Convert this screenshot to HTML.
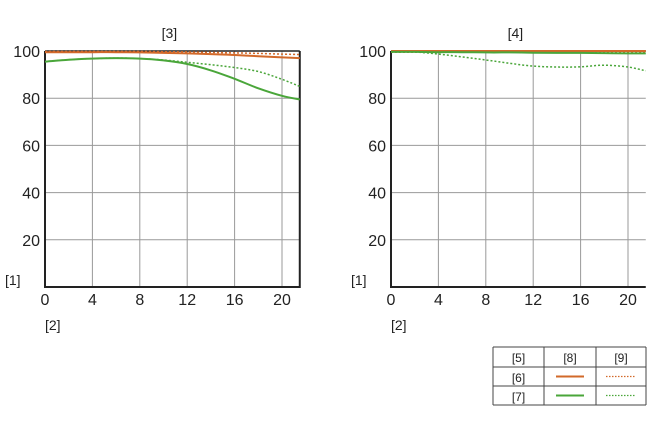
<!DOCTYPE html>
<html><head><meta charset="utf-8"><style>
body{margin:0;background:#fff;width:650px;height:434px;overflow:hidden}
svg{display:block}
text{font-family:"Liberation Sans",sans-serif;fill:#222}
</style></head><body>
<svg id="s" width="650" height="434"></svg>
<script>
const xTicks=[0,4,8,12,16,20];
const yTicks=[20,40,60,80,100];
const xs=[0,2,4,6,8,10,12,14,16,18,20,21.5];
const leftOrangeSolid=[99.5,99.5,99.5,99.5,99.4,99.2,99,98.7,98.3,97.8,97.3,97];
const leftOrangeDot=[99.8,99.8,99.8,99.8,99.8,99.7,99.6,99.4,99.2,99,98.7,98.5];
const leftGreenSolid=[95.5,96.3,96.8,97,96.8,96,94.5,91.8,88.2,84.2,81,79.5];
const leftGreenDot=[95.5,96.3,96.8,97,96.8,96.2,95.2,94.2,93,91.3,88,85];
const rightOrangeSolid=[100,100,100,100,100,100,100,100,100,100,100,100];
const rightOrangeDot=[99.5,99.5,99.5,99.5,99.5,99.5,99.5,99.5,99.5,99.5,99.5,99.4];
const rightGreenSolid=[99.6,99.6,99.5,99.5,99.4,99.4,99.3,99.2,99.2,99.1,99,99];
const rightGreenDot=[100,99.6,98.7,97.5,96.2,94.8,93.6,93.2,93.3,94,93.2,91.6];
const NS='http://www.w3.org/2000/svg';
const svg=document.getElementById('s');
function el(t,a,p){const e=document.createElementNS(NS,t);for(const k in a)e.setAttribute(k,a[k]);(p||svg).appendChild(e);return e;}
const orange='#d2692a',green='#4aa63a';
function smooth(pts){
  let d='M'+pts[0][0].toFixed(1)+','+pts[0][1].toFixed(1);
  for(let i=0;i<pts.length-1;i++){
    const p0=pts[i-1]||pts[i],p1=pts[i],p2=pts[i+1],p3=pts[i+2]||p2;
    const c1=[p1[0]+(p2[0]-p0[0])/6,p1[1]+(p2[1]-p0[1])/6];
    const c2=[p2[0]-(p3[0]-p1[0])/6,p2[1]-(p3[1]-p1[1])/6];
    d+=`C${c1[0].toFixed(1)},${c1[1].toFixed(1)} ${c2[0].toFixed(1)},${c2[1].toFixed(1)} ${p2[0].toFixed(1)},${p2[1].toFixed(1)}`;
  }
  return d;
}
function chart(x0,title,series,name,rightBorder){
  const g=el('g',{});
  
  
  const pxu=11.85,top=51,bot=287;
  const X=v=>x0+v*pxu, Y=v=>bot-(bot-top)*v/100;
  const right=X(21.5);
  xTicks.forEach(t=>{if(t>0){const l=el('line',{x1:X(t),x2:X(t),y1:top,y2:bot,stroke:'#999','stroke-width':1},g);}
    const tx=el('text',{x:X(t),y:305,'text-anchor':'middle','font-size':16},g);tx.textContent=t;});
  yTicks.forEach(t=>{if(t<100){const l=el('line',{x1:x0,x2:right,y1:Y(t),y2:Y(t),stroke:'#999','stroke-width':1},g);}
    const tx=el('text',{x:x0-5,y:Y(t)+6,'text-anchor':'end','font-size':16},g);tx.textContent=t;});
  const ax=el('path',{d:`M${x0},${top}V${bot}H${right}`+(rightBorder?`V${top}`:''),fill:'none',stroke:'#222','stroke-width':2},g);
  
  const tp=el('line',{x1:x0,x2:right,y1:top,y2:top,stroke:'#222','stroke-width':1.5},g);
  
  series.forEach(s=>{
    const d=smooth(xs.map((v,i)=>[X(v),Y(s.v[i])]));
    const p=el('path',{d,fill:'none',stroke:s.c,'stroke-width':s.dot?1.5:2,'stroke-dasharray':s.dot?'2,2':'none'},g);
    
  });
  const t=el('text',{x:(x0+right)/2-3,y:38,'text-anchor':'middle','font-size':14},g);t.textContent=title;
  
  const a=el('text',{x:x0-40,y:285,'font-size':14},g);a.textContent='[1]';
  
  const b=el('text',{x:x0,y:330,'font-size':14},g);b.textContent='[2]';
  
}
chart(45,'[3]',[{v:leftOrangeDot,c:orange,dot:1,n:'left-orange-dotted'},{v:leftGreenDot,c:green,dot:1,n:'left-green-dotted'},{v:leftOrangeSolid,c:orange,n:'left-orange-solid'},{v:leftGreenSolid,c:green,n:'left-green-solid'}],'left-chart',true);
chart(391,'[4]',[{v:rightOrangeDot,c:orange,dot:1,n:'right-orange-dotted'},{v:rightGreenDot,c:green,dot:1,n:'right-green-dotted'},{v:rightOrangeSolid,c:orange,n:'right-orange-solid'},{v:rightGreenSolid,c:green,n:'right-green-solid'}],'right-chart',false);
const lg=el('g',{});


const cols=[493,544,596,646],rows=[347,367,386,405];
rows.forEach(r=>el('line',{x1:493,x2:646,y1:r,y2:r,stroke:'#444'},lg));
cols.forEach(c=>el('line',{x1:c,x2:c,y1:347,y2:405,stroke:'#444'},lg));
const cells=[['[5]','[8]','[9]'],['[6]'],['[7]']];
cells.forEach((row,ri)=>row.forEach((txt,ci)=>{const t=el('text',{x:(cols[ci]+cols[ci+1])/2,y:rows[ri]+15,'text-anchor':'middle','font-size':12},lg);t.textContent=txt;}));
[[orange,1],[green,2]].forEach(([c,ri])=>{
  const y=(rows[ri]+rows[ri+1])/2;
  const a=el('line',{x1:556,x2:584,y1:y,y2:y,stroke:c,'stroke-width':2},lg);
  const b=el('line',{x1:606,x2:636,y1:y,y2:y,stroke:c,'stroke-width':1.3,'stroke-dasharray':'1.5,1.5'},lg);
});
</script>
</body></html>
